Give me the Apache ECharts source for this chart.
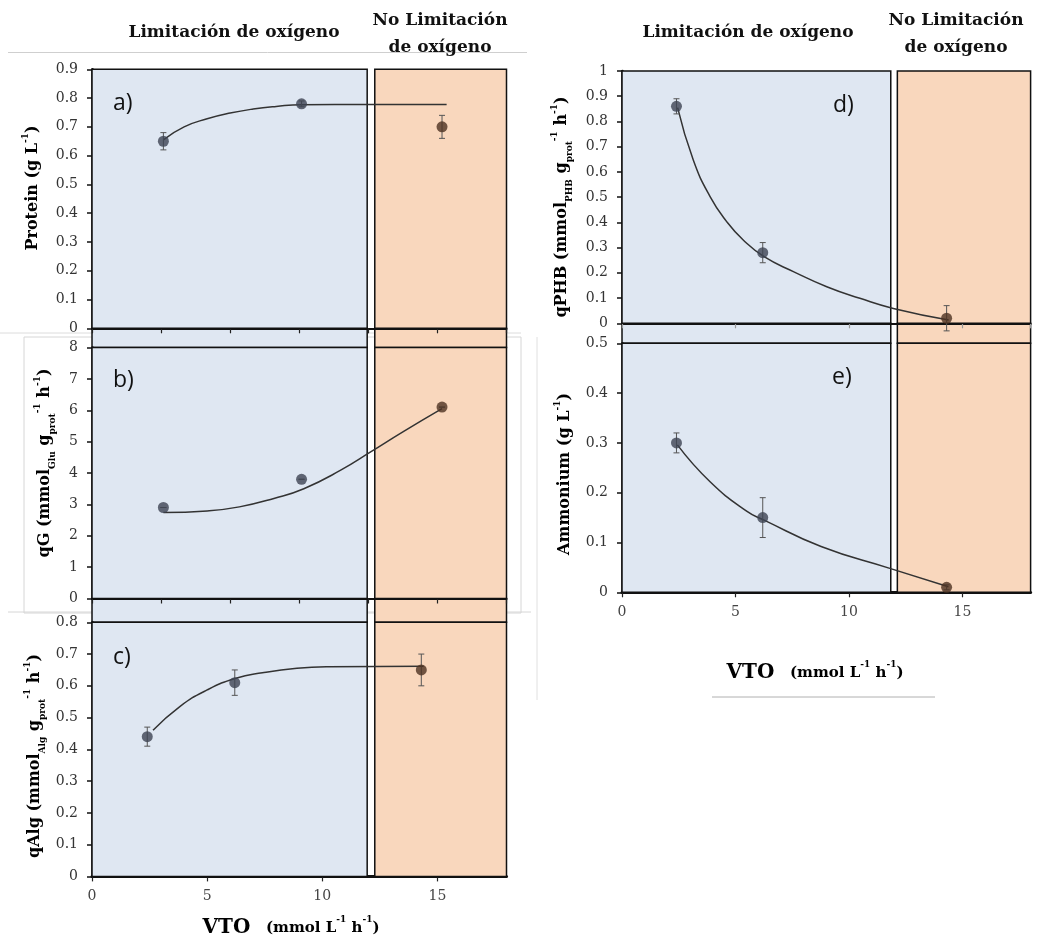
<!DOCTYPE html>
<html><head><meta charset="utf-8">
<script src="https://cdn.jsdelivr.net/npm/echarts@6/dist/echarts.min.js"></script>
<style>html,body{margin:0;padding:0;background:#fff}#c{width:1044px;height:943px}</style>
</head><body><div id="c"></div>
<script>
// ---------------- data ----------------
const vtoAB = [3.1, 9.1, 15.2];          // VTO of panels a, b
const vtoCDE = [2.4, 6.2, 14.3];         // VTO of panels c, d, e
const protein = [0.65, 0.78, 0.70];
const proteinErr = [0.03, 0.01, 0.04];
const qG = [2.9, 3.8, 6.1];
const qGErr = [0, 0, 0];
const qAlg = [0.44, 0.61, 0.65];
const qAlgErr = [0.03, 0.04, 0.05];
const qPHB = [0.86, 0.28, 0.02];
const qPHBErr = [0.03, 0.04, 0.05];
const ammonium = [0.30, 0.15, 0.01];
const ammoniumErr = [0.02, 0.04, 0.005];

// fitted trend curves
const fitProteinX = [3.1, 4, 5, 6, 7, 8, 9.1, 12, 15.4];
const fitProteinY = [0.655, 0.70, 0.728, 0.748, 0.762, 0.771, 0.777, 0.778, 0.778];
const fitQGX = [3.1, 5, 6.4, 7.9, 9.2, 10.8, 12.1, 13.5, 15.2];
const fitQGY = [2.74, 2.79, 2.92, 3.19, 3.50, 4.09, 4.67, 5.31, 6.05];
const fitQAlgX = [2.65, 3.8, 5.0, 6.25, 7.4, 8.9, 10.3, 14.4];
const fitQAlgY = [0.46, 0.534, 0.587, 0.624, 0.641, 0.655, 0.660, 0.662];
const fitQPHBX = [2.45, 3.14, 3.88, 4.61, 5.34, 6.26, 7.55, 9.02, 10.48, 11.95, 14.39];
const fitQPHBY = [0.855, 0.647, 0.502, 0.403, 0.330, 0.264, 0.205, 0.145, 0.099, 0.059, 0.013];
const fitAmmX = [2.44, 3.88, 5.49, 6.26, 8.77, 11.8, 14.38];
const fitAmmY = [0.296, 0.222, 0.163, 0.145, 0.092, 0.048, 0.011];

// oxygen-limitation zones on the VTO axis
const X_MAX = 18;
const zonesLeft = [11.95, 12.28];
const zonesRight = [11.84, 12.13];

// ---------------- styling ----------------
const SERIF = 'DejaVu Serif';
const BLUE = '#dfe7f2', ORANGE = '#f9d7bd';
const PT_BLUE = '#3d4452', PT_ORANGE = '#4e3222';
const RICH = {
  b:   {fontFamily: SERIF, fontWeight: 'bold', fontSize: 16, color: '#111', lineHeight: 24},
  sup: {fontFamily: SERIF, fontWeight: 'bold', fontSize: 9,  color: '#111', lineHeight: 19, verticalAlign: 'top'},
  sub: {fontFamily: SERIF, fontWeight: 'bold', fontSize: 9,  color: '#111', lineHeight: 13, verticalAlign: 'bottom'},
  v:   {fontFamily: SERIF, fontWeight: 'bold', fontSize: 20, color: '#111', lineHeight: 26},
  s:   {fontFamily: SERIF, fontWeight: 'bold', fontSize: 15, color: '#111', lineHeight: 26},
  ss:  {fontFamily: SERIF, fontWeight: 'bold', fontSize: 9,  color: '#111', lineHeight: 22, verticalAlign: 'top'}
};

const panels = [
  {grid: {left: 92, top: 69.3, width: 414.5, height: 259}, ymax: 0.9, yint: 0.1, xint: 3, xlabels: false,
   zones: zonesLeft, x: vtoAB, y: protein, err: proteinErr, fx: fitProteinX, fy: fitProteinY,
   xLineW: 2, name: '{b|Protein (g L}{sup|-1}{b|)}', namePos: [33, 188], label: 'a)', labelPos: [113, 103]},
  {grid: {left: 92, top: 347.5, width: 414.5, height: 251}, ymax: 8, yint: 1, xint: 3, xlabels: false,
   zones: zonesLeft, x: vtoAB, y: qG, err: qGErr, fx: fitQGX, fy: fitQGY,
   xLineW: 2, name: '{b|qG (mmol}{sub|Glu}{b| g}{sub|prot}{sup|-1}{b| h}{sup|-1}{b|)}', namePos: [45, 463], label: 'b)', labelPos: [113, 380]},
  {grid: {left: 92, top: 622.3, width: 414.5, height: 254.1}, ymax: 0.8, yint: 0.1, xint: 5, xlabels: true,
   zones: zonesLeft, x: vtoCDE, y: qAlg, err: qAlgErr, fx: fitQAlgX, fy: fitQAlgY,
   xLineW: 3, name: '{b|qAlg (mmol}{sub|Alg}{b| g}{sub|prot}{sup|-1}{b| h}{sup|-1}{b|)}', namePos: [35, 756], label: 'c)', labelPos: [113, 657]},
  {grid: {left: 622, top: 71, width: 408.6, height: 252.3}, ymax: 1, yint: 0.1, xint: 5, xlabels: false,
   zones: zonesRight, x: vtoCDE, y: qPHB, err: qPHBErr, fx: fitQPHBX, fy: fitQPHBY,
   xLineW: 2, name: '{b|qPHB (mmol}{sub|PHB}{b| g}{sub|prot}{sup|-1}{b| h}{sup|-1}{b|)}', namePos: [562, 207], label: 'd)', labelPos: [833, 105]},
  {grid: {left: 622, top: 343.3, width: 408.6, height: 249}, ymax: 0.5, yint: 0.1, xint: 5, xlabels: true,
   zones: zonesRight, x: vtoCDE, y: ammonium, err: ammoniumErr, fx: fitAmmX, fy: fitAmmY,
   xLineW: 3, name: '{b|Ammonium (g L}{sup|-1}{b|)}', namePos: [565, 474], label: 'e)', labelPos: [832, 377]}
];

const chart = echarts.init(document.getElementById('c'));
const grids = [], xAxes = [], yAxes = [], series = [];

panels.forEach((p, i) => {
  grids.push(Object.assign({containLabel: false, outerBoundsMode: 'none'}, p.grid));
  xAxes.push({
    gridIndex: i, type: 'value', min: 0, max: X_MAX, interval: p.xint,
    axisLine: {show: true, onZero: false, lineStyle: {color: '#111', width: p.xLineW}},
    axisTick: {show: true, length: 5, lineStyle: {color: i === 3 ? '#999' : '#222', width: 1.2}},
    axisLabel: {show: p.xlabels, showMaxLabel: false, fontFamily: SERIF, fontSize: 14, color: '#444', margin: 13},
    splitLine: {show: false}
  });
  yAxes.push({
    gridIndex: i, type: 'value', min: 0, max: p.ymax, interval: p.yint,
    axisLine: {show: true, lineStyle: {color: '#111', width: 2.5}},
    axisTick: {show: true, length: 5, lineStyle: {color: '#111', width: 1.5}},
    axisLabel: {fontFamily: SERIF, fontSize: 14, color: '#333', margin: 14},
    splitLine: {show: false}
  });
  // shaded zones
  series.push({
    type: 'custom', xAxisIndex: i, yAxisIndex: i, z: 1, silent: true, clip: false,
    data: [[0, p.zones[0], 0], [p.zones[1], X_MAX, 1]],
    renderItem: (params, api) => {
      const a = api.coord([api.value(0), p.ymax]);
      const b = api.coord([api.value(1), 0]);
      return {type: 'rect', shape: {x: a[0], y: a[1], width: b[0] - a[0], height: b[1] - a[1]},
        style: {fill: api.value(2) ? ORANGE : BLUE, stroke: '#111', lineWidth: 1.5}};
    }
  });
  // fitted curve
  series.push({
    type: 'line', xAxisIndex: i, yAxisIndex: i, z: 3, silent: true,
    data: p.fx.map((x, k) => [x, p.fy[k]]),
    smooth: 0.5, showSymbol: false, symbol: 'none',
    lineStyle: {color: '#333', width: 1.5}
  });
  // error bars
  series.push({
    type: 'custom', xAxisIndex: i, yAxisIndex: i, z: 4, silent: true,
    data: p.x.map((x, k) => [x, p.y[k] - p.err[k], p.y[k] + p.err[k]]),
    renderItem: (params, api) => {
      const lo = api.coord([api.value(0), api.value(1)]);
      const hi = api.coord([api.value(0), api.value(2)]);
      const st = {stroke: '#555', lineWidth: 1};
      return {type: 'group', children: [
        {type: 'line', shape: {x1: lo[0], y1: lo[1], x2: hi[0], y2: hi[1]}, style: st},
        {type: 'line', shape: {x1: lo[0] - 3, y1: lo[1], x2: lo[0] + 3, y2: lo[1]}, style: st},
        {type: 'line', shape: {x1: hi[0] - 3, y1: hi[1], x2: hi[0] + 3, y2: hi[1]}, style: st}
      ]};
    }
  });
  // measured points
  series.push({
    type: 'scatter', xAxisIndex: i, yAxisIndex: i, z: 5, symbolSize: 11, clip: false,
    data: p.x.map((x, k) => ({value: [x, p.y[k]], itemStyle: {color: x > p.zones[0] ? PT_ORANGE : PT_BLUE}}))
  });
});

chart.setOption({
  animation: false,
  backgroundColor: '#fff',
  grid: grids, xAxis: xAxes, yAxis: yAxes, series: series
});

// ---------------- texts and gap fillers ----------------
const graphics = [];
function txt(x, y, text, extra) {
  graphics.push(Object.assign({type: 'text', x: x, y: y, z: 10,
    style: Object.assign({text: text, align: 'center', verticalAlign: 'middle', fill: '#111',
      fontFamily: SERIF, fontWeight: 'bold', fontSize: 17}, extra || {})}));
}
function line(x1, y1, x2, y2, color, w) {
  graphics.push({type: 'line', z: -5, shape: {x1, y1, x2, y2}, style: {stroke: color, lineWidth: w || 1}});
}
// image-frame artifacts of the composite
line(8, 52.5, 527, 52.5, '#cfcfcf');
line(0, 333, 521, 333, '#dcdcdc');
graphics.push({type: 'rect', z: -5, shape: {x: 24, y: 337, width: 497, height: 276}, style: {fill: 'none', stroke: '#d6d6d6', lineWidth: 1}});
line(8, 612, 531, 612, '#d6d6d6');
line(537, 337, 537, 700, '#e0e0e0');
line(712, 697, 935, 697, '#b0b0b0');

// headers
txt(234, 33, 'Limitación de oxígeno');
txt(440, 21, 'No Limitación');
txt(440, 48, 'de oxígeno');
txt(748, 33, 'Limitación de oxígeno');
txt(956, 21, 'No Limitación');
txt(956, 48, 'de oxígeno');

// y-axis names and panel letters
panels.forEach((p) => {
  graphics.push({type: 'text', x: p.namePos[0], y: p.namePos[1], rotation: Math.PI / 2, z: 10,
    style: {text: p.name, rich: RICH, align: 'center', verticalAlign: 'middle'}});
  graphics.push({type: 'text', x: p.labelPos[0], y: p.labelPos[1], z: 10,
    style: {text: p.label, fontFamily: 'Open Sans', fontSize: 23, fill: '#111', align: 'left', verticalAlign: 'middle'}});
});

// x-axis titles
const xTitle = '{v|VTO}{s|   (mmol L}{ss|-1}{s| h}{ss|-1}{s|)}';
graphics.push({type: 'text', x: 291, y: 928, z: 10, style: {text: xTitle, rich: RICH, align: 'center', verticalAlign: 'middle'}});
graphics.push({type: 'text', x: 815, y: 673, z: 10, style: {text: xTitle, rich: RICH, align: 'center', verticalAlign: 'middle'}});

// shaded zones continue through the gaps between stacked panels
function px(gi, x, y) { return chart.convertToPixel({xAxisIndex: gi, yAxisIndex: gi}, [x, y]); }
[[0, 1], [1, 2], [3, 4]].forEach(([ga, gb]) => {
  const z = panels[ga].zones;
  const yTop = px(ga, 0, 0)[1];
  const yBot = px(gb, 0, panels[gb].ymax)[1];
  const xs = [px(ga, 0, 0)[0], px(ga, z[0], 0)[0], px(ga, z[1], 0)[0], px(ga, X_MAX, 0)[0]];
  graphics.push({type: 'rect', z: -1, shape: {x: xs[0], y: yTop, width: xs[1] - xs[0], height: yBot - yTop},
    style: {fill: BLUE, stroke: '#111', lineWidth: 1.5}});
  graphics.push({type: 'rect', z: -1, shape: {x: xs[2], y: yTop, width: xs[3] - xs[2], height: yBot - yTop},
    style: {fill: ORANGE, stroke: '#111', lineWidth: 1.5}});
});

chart.setOption({graphic: graphics});
</script>
</body></html>
